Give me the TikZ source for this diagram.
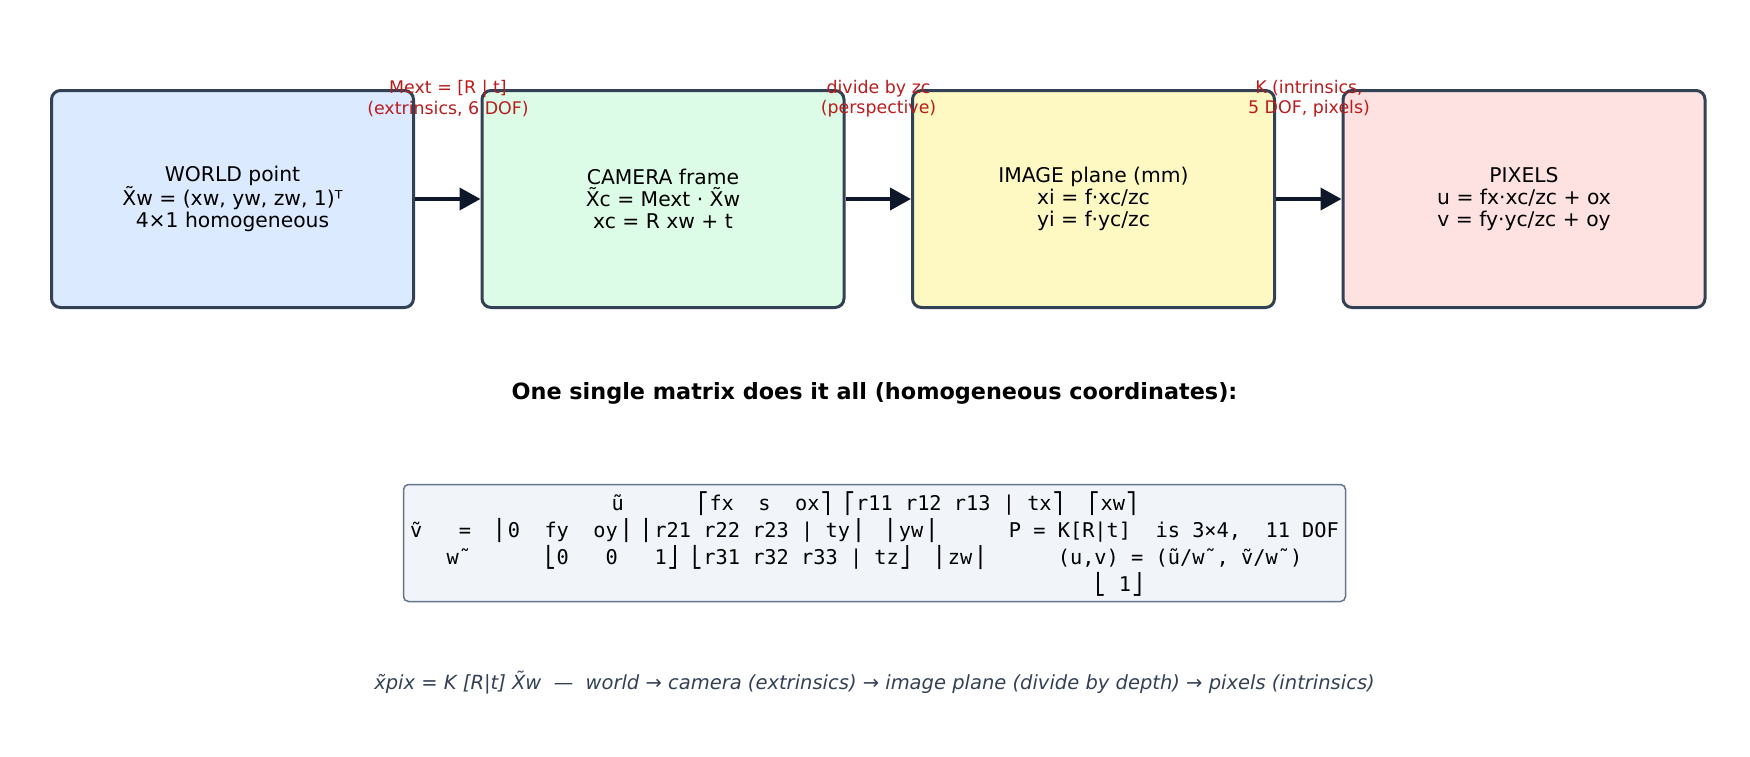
\documentclass[tikz,border=0pt]{standalone}
\usepackage{fontspec}
\setmainfont{DejaVu Sans}
\newfontfamily\monof{DejaVu Sans Mono}
\usetikzlibrary{arrows.meta}
\definecolor{edgec}{HTML}{334155}
\definecolor{navy}{HTML}{0F172A}
\definecolor{lblred}{HTML}{B91C1C}
\definecolor{slatec}{HTML}{334155}
\definecolor{cA}{HTML}{DBEAFE}
\definecolor{cB}{HTML}{DCFCE7}
\definecolor{cC}{HTML}{FEF9C3}
\definecolor{cD}{HTML}{FEE2E2}
\definecolor{mfill}{HTML}{F1F5F9}
\definecolor{mborder}{HTML}{64748B}
\begin{document}
\begin{tikzpicture}[x=1pt,y=-1pt,
  stage/.style={draw=edgec, line width=3pt, rounded corners=9pt,
    minimum width=362pt, minimum height=217pt, inner sep=0pt,
    align=center, font=\fontsize{20.3}{22}\selectfont, text=black},
  flow/.style={draw=navy, line width=4pt, -{Triangle[length=21pt,width=22pt]}},
  lbl/.style={text=lblred, align=center, font=\fontsize{17.4}{20.6}\selectfont, inner sep=0pt},
  mline/.style={font=\monof\fontsize{20.3}{27}\selectfont, anchor=base, inner sep=0pt, text=black}
]
\useasboundingbox (0,0) rectangle (1750,756);

\node[stage, fill=cA] (world)  at (232.5,199) {WORLD point\\X̃w = (xw, yw, zw, 1)ᵀ\\4×1 homogeneous};
\node[stage, fill=cB] (camera) at (663,199)   {CAMERA frame\\X̃c = Mext · X̃w\\xc = R xw + t};
\node[stage, fill=cC] (image)  at (1093.5,199){IMAGE plane (mm)\\xi = f·xc/zc\\yi = f·yc/zc};
\node[stage, fill=cD] (pixels) at (1524,199)  {PIXELS\\u = fx·xc/zc + ox\\v = fy·yc/zc + oy};

\draw[flow] (world.east) -- (camera.west);
\draw[flow] (camera.east) -- (image.west);
\draw[flow] (image.east) -- (pixels.west);

\node[lbl] (lA) at (448,98.5)    {Mext = [R | t]\\(extrinsics, 6 DOF)};
\node[lbl] (lB) at (878.5,98.5)  {divide by zc\\(perspective)};
\node[lbl] (lC) at (1309,98.5)   {K (intrinsics,\\5 DOF, pixels)};

\node[font=\bfseries\fontsize{22.35}{26}\selectfont, anchor=base, inner sep=0pt] (title) at (874.5,399)
  {One single matrix does it all (homogeneous coordinates):};

\node[draw=mborder, fill=mfill, line width=1.5pt, rounded corners=5pt,
  minimum width=942pt, minimum height=117pt, inner sep=0pt] (mbox) at (874.5,543) {};

\node[mline] (m1) at (874.5,510) {ũ~~~~~~⎡fx~~s~~ox⎤~⎡r11~r12~r13~|~tx⎤~~⎡xw⎤};
\node[mline] (m2) at (874.5,537) {ṽ~~~=~~⎢0~~fy~~oy⎥~⎢r21~r22~r23~|~ty⎥~~⎢yw⎥~~~~~~P~=~K[R|t]~~is~3×4,~~11~DOF};
\node[mline] (m3) at (874.5,564) {w˜~~~~~~⎣0~~~0~~~1⎦~⎣r31~r32~r33~|~tz⎦~~⎢zw⎥~~~~~~(u,v)~=~(ũ/w˜,~ṽ/w˜)};
\node[mline] (m4) at (874.5,591) {~~~~~~~~~~~~~~~~~~~~~~~~~~~~~~~~~~~~~~~~⎣~1⎦};

\node[font=\itshape\fontsize{19.5}{22}\selectfont, text=slatec, anchor=base, inner sep=0pt] (caption) at (874.5,689)
  {x̃pix = K [R|t] X̃w\ \ —\ \ world → camera (extrinsics) → image plane (divide by depth) → pixels (intrinsics)};
\end{tikzpicture}
\end{document}
